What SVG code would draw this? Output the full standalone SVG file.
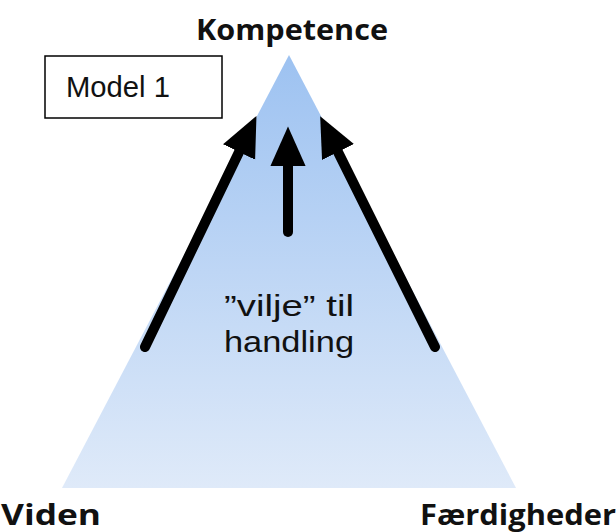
<svg xmlns="http://www.w3.org/2000/svg" width="616" height="532" viewBox="0 0 616 532">
<style>
.lbl{font-family:"Open Sans","Liberation Sans",sans-serif;font-weight:bold;fill:#111}
.txt{font-family:"Liberation Sans",Arial,sans-serif;fill:#111}
.conn{stroke:#000;stroke-width:10;stroke-linecap:round;fill:none;marker-end:url(#ah)}
</style>
<defs>
<linearGradient id="g" x1="0" y1="0" x2="0" y2="1">
<stop offset="0" stop-color="#9dc2f1"/>
<stop offset="1" stop-color="#dfeaf9"/>
</linearGradient>
<marker id="ah" markerUnits="userSpaceOnUse" markerWidth="40" markerHeight="40" refX="4" refY="16" orient="auto" viewBox="0 0 36 32">
<path d="M0,0 L36,16 L0,32 Z" fill="#000"/>
</marker>
</defs>
<g id="triangle"><polygon points="289,55 62,488 516,488" fill="url(#g)"/></g>
<g id="model"><rect x="45" y="56" width="177" height="62" fill="#fff" stroke="#000" stroke-width="1.5"/>
<text class="txt" x="66" y="97" font-size="29" textLength="104" lengthAdjust="spacingAndGlyphs">Model 1</text></g>
<g id="kompetence"><text class="lbl" x="292" y="40" font-size="28" text-anchor="middle" textLength="192" lengthAdjust="spacingAndGlyphs">Kompetence</text></g>
<g id="viden"><text class="lbl" x="1" y="525" font-size="29" textLength="100" lengthAdjust="spacingAndGlyphs">Viden</text></g>
<g id="faerdigheder"><text class="lbl" x="420" y="525" font-size="29" textLength="196" lengthAdjust="spacingAndGlyphs">Færdigheder</text></g>
<g id="vilje"><text class="txt" x="224" y="316" font-size="30" textLength="130" lengthAdjust="spacingAndGlyphs">”vilje” til</text>
<text class="txt" x="224" y="352" font-size="30" textLength="130" lengthAdjust="spacingAndGlyphs">handling</text></g>
<g id="connectors">
<line class="conn" x1="145" y1="347" x2="241" y2="148"/>
<line class="conn" x1="288" y1="232" x2="288" y2="162"/>
<line class="conn" x1="435" y1="347" x2="336" y2="148"/>
</g>
</svg>
